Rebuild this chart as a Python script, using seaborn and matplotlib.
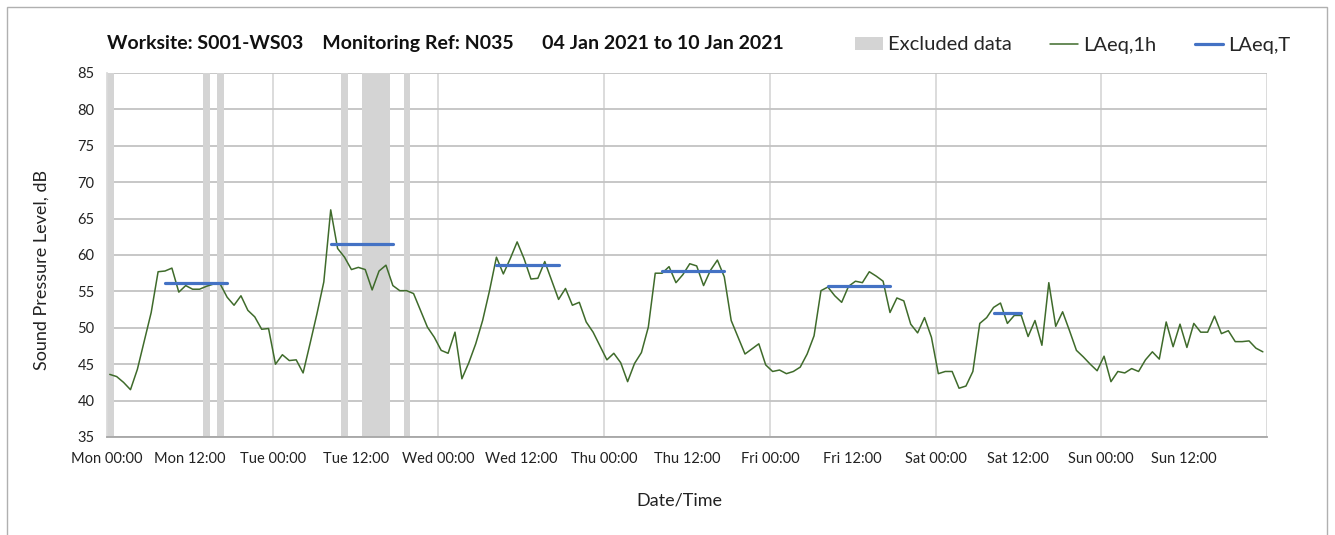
import numpy as np
import pandas as pd
import matplotlib
matplotlib.use("Agg")
import matplotlib.pyplot as plt
from matplotlib.patches import Patch, Rectangle
from matplotlib.lines import Line2D
import seaborn as sns

# ---------------- data ----------------
day_names = ["Mon", "Tue", "Wed", "Thu", "Fri", "Sat", "Sun"]

laeq_mon = [43.6, 43.3, 42.5, 41.5, 44.3, 48.2, 52.1, 57.7, 57.8, 58.2, 54.9, 55.8,
            55.3, 55.3, 55.7, 56.0, 56.0, 54.2, 53.1, 54.4, 52.4, 51.5, 49.8, 49.9]
laeq_tue = [45.0, 46.3, 45.5, 45.6, 43.8, 47.8, 51.9, 56.3, 66.2, 60.9, 59.7, 58.0,
            58.3, 58.0, 55.2, 57.8, 58.6, 55.8, 55.1, 55.1, 54.7, 52.4, 50.1, 48.7]
laeq_wed = [46.9, 46.5, 49.4, 43.0, 45.2, 47.8, 51.0, 55.1, 59.7, 57.4, 59.5, 61.8,
            59.5, 56.7, 56.8, 59.1, 56.5, 53.9, 55.4, 53.1, 53.5, 50.8, 49.4, 47.5]
laeq_thu = [45.6, 46.5, 45.2, 42.6, 45.1, 46.6, 50.1, 57.5, 57.5, 58.4, 56.2, 57.3,
            58.8, 58.5, 55.8, 57.9, 59.3, 57.0, 51.0, 48.7, 46.4, 47.1, 47.8, 44.9]
laeq_fri = [44.0, 44.2, 43.7, 44.0, 44.6, 46.4, 48.9, 55.1, 55.6, 54.4, 53.5, 55.7,
            56.4, 56.2, 57.7, 57.1, 56.4, 52.1, 54.1, 53.7, 50.5, 49.3, 51.4, 48.7]
laeq_sat = [43.7, 44.0, 44.0, 41.7, 42.0, 44.0, 50.6, 51.4, 52.8, 53.4, 50.6, 51.7,
            51.7, 48.8, 51.0, 47.6, 56.2, 50.2, 52.2, 49.6, 46.9, 46.0, 45.0, 44.1]
laeq_sun = [46.1, 42.6, 44.0, 43.8, 44.4, 44.0, 45.6, 46.7, 45.7, 50.8, 47.4, 50.5,
            47.3, 50.6, 49.4, 49.4, 51.6, 49.2, 49.6, 48.1, 48.1, 48.2, 47.2, 46.7]

# LAeq,T periods: start hour, end hour, level
laeqT_start = [8, 32, 56, 80, 104, 128]
laeqT_end = [17, 41, 65, 89, 113, 132]
laeqT_value = [56.1, 61.5, 58.6, 57.8, 55.8, 52.1]

# excluded hours
excluded_hours = [0, 14, 16, 34, 37, 38, 39, 40, 43]

title_text = "Worksite: S001-WS03    Monitoring Ref: N035      04 Jan 2021 to 10 Jan 2021"

# ---------------- build ----------------
laeq_1h = laeq_mon + laeq_tue + laeq_wed + laeq_thu + laeq_fri + laeq_sat + laeq_sun
hours = np.arange(len(laeq_1h))
offset = 0.4
df = pd.DataFrame({"t": hours + offset, "LAeq,1h": laeq_1h})

sns.set_theme(style="white")
plt.rcParams["font.family"] = ["Lato", "DejaVu Sans"]

W, H = 1335, 535
fig = plt.figure(figsize=(W / 100, H / 100), dpi=100)
ax = fig.add_axes([107 / W, 1 - 437 / H, (1267 - 107) / W, (437 - 73) / H])

green = "#3f6b2b"
blue = "#4472c4"
band = "#d4d4d4"

# excluded data bands
ax.bar(np.array(excluded_hours) + 0.45, [50] * len(excluded_hours), bottom=35,
       width=1.0, color=band, linewidth=0, zorder=1)

sns.lineplot(data=df, x="t", y="LAeq,1h", color=green, linewidth=1.1, ax=ax, zorder=3)

for s, e, v in zip(laeqT_start, laeqT_end, laeqT_value):
    seg = pd.DataFrame({"t": [s + offset, e + offset], "v": [v, v]})
    sns.lineplot(data=seg, x="t", y="v", color=blue, linewidth=2.3, ax=ax, zorder=4)

ax.set_xlim(0, 168)
ax.set_ylim(35, 85)
ax.set_yticks(np.arange(35, 86, 5))

major = np.arange(0, 169, 24)
minor = np.arange(12, 168, 24)
ax.set_xticks(major)
ax.set_xticklabels([f"{d} 00:00" for d in day_names] + [""])
ax.set_xticks(minor, minor=True)
ax.set_xticklabels([f"{d} 12:00" for d in day_names], minor=True)

ax.grid(False)
ax.yaxis.grid(True, color="#c3c3c3", linewidth=1.3, zorder=0)
ax.xaxis.grid(True, which="major", color="#d9d9d9", linewidth=1.3, zorder=0)
ax.set_axisbelow(True)

for side in ["top", "right"]:
    ax.spines[side].set_visible(False)
ax.spines["left"].set_color("#d9d9d9")
ax.spines["bottom"].set_color("#a6a6a6")
ax.spines["bottom"].set_linewidth(1.3)

ax.tick_params(axis="both", which="both", direction="out", length=5, width=1,
               color="#a6a6a6", labelsize=10.5, labelcolor="#222222")
ax.tick_params(axis="x", which="both", pad=6)
ax.tick_params(axis="y", pad=4)

ax.set_xlabel("Date/Time", fontsize=13, color="#222222")
ax.set_ylabel("Sound Pressure Level, dB", fontsize=13, color="#222222")
ax.xaxis.set_label_coords((679 - 107) / 1160, (437 - 500) / 364)
ax.yaxis.set_label_coords((42 - 107) / 1160, (437 - 270) / 364)
ax.xaxis.label.set_va("center")
ax.yaxis.label.set_va("center")

fig.text(107 / W, 1 - 43 / H, title_text, fontsize=14, fontweight="bold",
         ha="left", va="center", color="#111111")

handles = [Patch(facecolor=band, edgecolor="none"),
           Line2D([0], [0], color=green, linewidth=1.1),
           Line2D([0], [0], color=blue, linewidth=2.3)]
labels = ["Excluded data", "LAeq,1h", "LAeq,T"]
fig.legend(handles, labels, loc="center right", bbox_to_anchor=(1308 / W, 1 - 45 / H),
           ncol=3, frameon=False, fontsize=14.5, handlelength=1.4, handletextpad=0.25,
           columnspacing=1.9, handleheight=0.65)

fig.patches.append(Rectangle((7 / W, -0.02), (1327 - 7) / W, 1 - 7 / H + 0.02,
                             transform=fig.transFigure, fill=False,
                             edgecolor="#b0b0b0", linewidth=1.0))

fig.savefig("out.png", dpi=100)
